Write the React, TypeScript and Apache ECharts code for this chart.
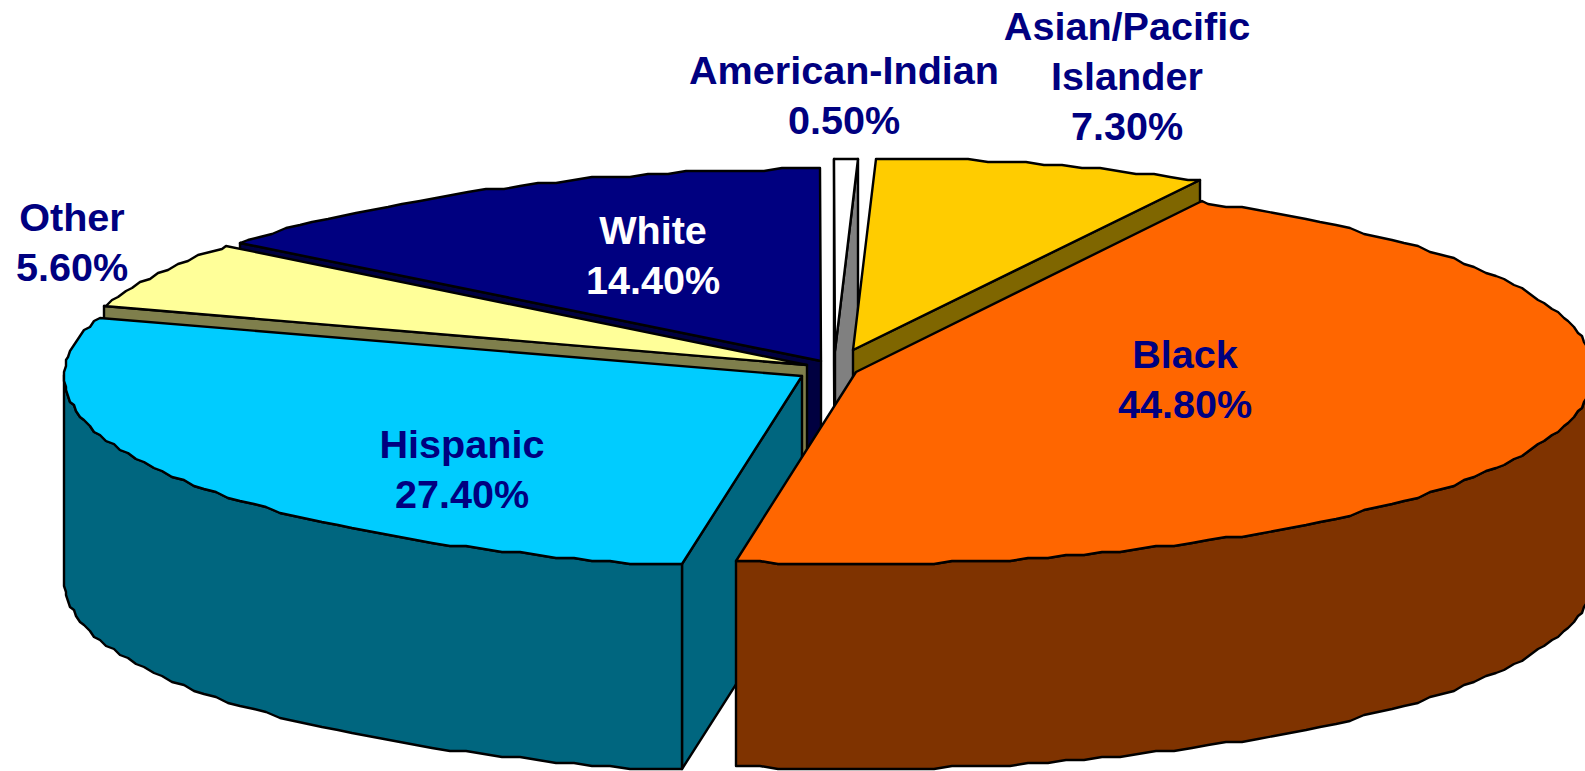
import React, { useEffect, useRef } from "react";
import * as echarts from "echarts";

// Data, clockwise from the first slice
const categories = ["Black", "Hispanic", "Other", "White", "American-Indian", "Asian/Pacific\nIslander"];
const shares = [44.8, 27.4, 5.6, 14.4, 0.5, 7.3];

// Styles
const topColors = ["#FF6600", "#00CCFF", "#FFFF99", "#000080", "#FFFFFF", "#FFCC00"];
const sideColors = ["#7F3300", "#00667F", "#7F7F4C", "#000040", "#808080", "#7F6600"];
const labelColors = ["#000080", "#000080", "#000080", "#FFFFFF", "#000080", "#000080"];

// Projection layout (pixels)
const WIDTH = 1585;
const HEIGHT = 771;
const RX = 738;
const RY = 192;
const DEPTH = 205;
const FIRST_ANGLE = 28;
const SAMPLE_DEG = 1.5;
const SNAP_X = 2;
const SNAP_Y = 3;
const apexX = [856, 802, 807, 821, 835, 853];
const apexY = [372, 376, 365, 361, 351, 350];
const labelX = [1185, 462, 72, 653, 844, 1127];
const labelY = [379, 469, 242, 255, 95, 76];
const paintOrder = [3, 2, 1, 4, 5, 0];

const rad = (d: number) => (d * Math.PI) / 180;
const total = shares.reduce((a, b) => a + b, 0);
const startAngles: number[] = [];
shares.reduce((acc, v, i) => {
  startAngles[i] = acc;
  return acc + (v / total) * 360;
}, FIRST_ANGLE);

function rim(i: number, deg: number, drop = 0): number[] {
  const x = apexX[i] + RX * Math.sin(rad(deg));
  const y = apexY[i] - RY * Math.cos(rad(deg));
  return [Math.round(x / SNAP_X) * SNAP_X, Math.round(y / SNAP_Y) * SNAP_Y + drop];
}

// Samples on a fixed angular grid, so that a wall and the top above it share their vertices.
function arc(i: number, from: number, to: number, drop = 0): number[][] {
  const lo = Math.min(from, to);
  const hi = Math.max(from, to);
  const angles = [lo];
  for (let k = Math.ceil(lo / SAMPLE_DEG + 1e-6); k * SAMPLE_DEG < hi - 1e-6; k++) {
    angles.push(k * SAMPLE_DEG);
  }
  angles.push(hi);
  if (from > to) angles.reverse();
  return angles.map((a) => rim(i, a, drop));
}

function poly(points: number[][], fill: string) {
  return {
    type: "polygon",
    shape: { points },
    style: { fill, stroke: "#000000", lineWidth: 2.4, lineJoin: "round" },
  };
}

function renderSlice(_: unknown, api: any) {
  const i = paintOrder[api.value(0)];
  const a0 = startAngles[i];
  const a1 = a0 + (shares[i] / total) * 360;
  const children: any[] = [];
  const side = sideColors[i];
  const face = (deg: number) =>
    poly(
      [[apexX[i], apexY[i]], rim(i, deg), rim(i, deg, DEPTH), [apexX[i], apexY[i] + DEPTH]],
      side,
    );
  if (Math.sin(rad(a0)) < 0) children.push(face(a0));
  if (Math.sin(rad(a1)) > 0) children.push(face(a1));
  const w0 = Math.max(a0, 90);
  const w1 = Math.min(a1, 270);
  if (w1 > w0) {
    children.push(poly([...arc(i, w0, w1), ...arc(i, w1, w0, DEPTH)], side));
  }
  children.push(poly([[apexX[i], apexY[i]], ...arc(i, a0, a1)], topColors[i]));
  return { type: "group", children };
}

function renderLabel(_: unknown, api: any) {
  const i = api.value(0);
  return {
    type: "text",
    x: labelX[i],
    y: labelY[i],
    style: {
      text: `${categories[i]}\n${shares[i].toFixed(2)}%`,
      fill: labelColors[i],
      font: 'bold 39.6px "Liberation Sans", Arial, sans-serif',
      lineHeight: 50,
      align: "center",
      verticalAlign: "middle",
    },
  };
}

export default function App() {
  const ref = useRef<HTMLDivElement>(null);
  useEffect(() => {
    const chart = echarts.init(ref.current!, undefined, { renderer: "svg" });
    chart.setOption({
      animation: false,
      backgroundColor: "#FFFFFF",
      series: [
        {
          type: "custom",
          coordinateSystem: "none",
          silent: true,
          z: 2,
          clip: false,
          data: paintOrder.map((_, k) => [k]),
          renderItem: renderSlice,
        },
        {
          type: "custom",
          coordinateSystem: "none",
          silent: true,
          z: 3,
          data: categories.map((_, k) => [k]),
          renderItem: renderLabel,
        },
      ],
    });
    return () => chart.dispose();
  }, []);
  return (
    <div
      ref={ref}
      style={{ position: "fixed", left: 0, top: 0, width: WIDTH, height: HEIGHT, overflow: "hidden" }}
    />
  );
}
